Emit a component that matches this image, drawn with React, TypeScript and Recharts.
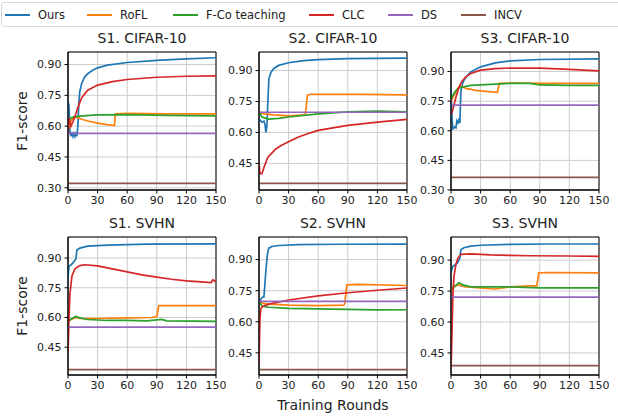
import { LineChart, Line, XAxis, YAxis, CartesianGrid, ReferenceArea } from "recharts";

type Pt = [number, number];

const methods = ["Ours", "RoFL", "F-Co teaching", "CLC", "DS", "INCV"];
const colors = ["#1f77b4", "#ff7f0e", "#2ca02c", "#d62728", "#9467bd", "#8c564b"];
const titles = ["S1. CIFAR-10", "S2. CIFAR-10", "S3. CIFAR-10", "S1. SVHN", "S2. SVHN", "S3. SVHN"];
const xTicks = [0, 30, 60, 90, 120, 150];
const yTicksWide = [0.3, 0.45, 0.6, 0.75, 0.9];
const yTicksNarrow = [0.45, 0.6, 0.75, 0.9];

// S1. CIFAR-10
const s1cOurs: Pt[] = [[0, 0.72], [1, 0.7], [2, 0.57], [3, 0.55], [4, 0.57], [5, 0.55], [6, 0.565], [7, 0.55], [8, 0.57], [9, 0.55], [10, 0.6], [11, 0.72], [12, 0.77], [14, 0.81], [17, 0.84], [20, 0.855], [25, 0.872], [30, 0.884], [40, 0.897], [60, 0.91], [90, 0.92], [120, 0.928], [150, 0.933]];
const s1cRofl: Pt[] = [[0, 0.58], [3, 0.625], [6, 0.645], [10, 0.64], [15, 0.632], [20, 0.625], [30, 0.615], [40, 0.607], [47, 0.603], [48, 0.66], [60, 0.662], [100, 0.66], [150, 0.66]];
const s1cFco: Pt[] = [[0, 0.62], [3, 0.64], [6, 0.645], [15, 0.65], [30, 0.655], [60, 0.656], [100, 0.652], [150, 0.65]];
const s1cClc: Pt[] = [[0, 0.57], [1, 0.64], [2, 0.62], [3, 0.6], [5, 0.62], [8, 0.66], [10, 0.69], [14, 0.74], [20, 0.775], [30, 0.8], [45, 0.817], [60, 0.827], [90, 0.838], [120, 0.843], [150, 0.845]];
const s1cDs: Pt[] = [[0, 0.565], [150, 0.565]];
const s1cIncv: Pt[] = [[0, 0.321], [150, 0.321]];

// S2. CIFAR-10
const s2cOurs: Pt[] = [[0, 0.67], [1, 0.66], [3, 0.65], [5, 0.655], [6, 0.64], [7, 0.6], [8, 0.63], [9, 0.75], [10, 0.86], [12, 0.89], [15, 0.91], [20, 0.925], [30, 0.938], [45, 0.948], [60, 0.953], [90, 0.958], [150, 0.96]];
const s2cRofl: Pt[] = [[0, 0.7], [5, 0.69], [15, 0.685], [30, 0.68], [47, 0.685], [49, 0.78], [52, 0.785], [100, 0.785], [150, 0.782]];
const s2cFco: Pt[] = [[0, 0.7], [3, 0.675], [10, 0.665], [20, 0.668], [30, 0.675], [60, 0.69], [90, 0.7], [120, 0.703], [150, 0.7]];
const s2cClc: Pt[] = [[0, 0.45], [1, 0.4], [3, 0.4], [5, 0.43], [9, 0.48], [13, 0.5], [17, 0.52], [22, 0.535], [30, 0.555], [40, 0.578], [50, 0.595], [60, 0.61], [75, 0.622], [90, 0.634], [120, 0.65], [150, 0.663]];
const s2cDs: Pt[] = [[0, 0.698], [150, 0.698]];
const s2cIncv: Pt[] = [[0, 0.353], [150, 0.353]];

// S3. CIFAR-10
const s3cOurs: Pt[] = [[0, 0.82], [1, 0.66], [2, 0.61], [4, 0.62], [5, 0.615], [6, 0.65], [7, 0.64], [8, 0.655], [9, 0.64], [10, 0.8], [12, 0.845], [15, 0.87], [20, 0.898], [30, 0.924], [45, 0.944], [60, 0.954], [90, 0.961], [150, 0.964]];
const s3cRofl: Pt[] = [[0, 0.75], [4, 0.79], [8, 0.822], [11, 0.825], [15, 0.815], [25, 0.805], [35, 0.8], [47, 0.795], [49, 0.84], [60, 0.842], [100, 0.84], [150, 0.84]];
const s3cFco: Pt[] = [[0, 0.76], [3, 0.79], [6, 0.81], [10, 0.82], [20, 0.83], [40, 0.835], [60, 0.84], [80, 0.84], [90, 0.832], [120, 0.83], [150, 0.83]];
const s3cClc: Pt[] = [[0, 0.68], [2, 0.71], [5, 0.77], [8, 0.82], [11, 0.85], [15, 0.873], [20, 0.89], [30, 0.907], [45, 0.915], [60, 0.918], [90, 0.917], [120, 0.911], [150, 0.903]];
const s3cDs: Pt[] = [[0, 0.73], [150, 0.73]];
const s3cIncv: Pt[] = [[0, 0.364], [150, 0.364]];

// S1. SVHN
const s1sOurs: Pt[] = [[0, 0.8], [1, 0.86], [3, 0.865], [5, 0.875], [7, 0.89], [8, 0.895], [9, 0.94], [12, 0.95], [20, 0.96], [40, 0.965], [80, 0.97], [150, 0.971]];
const s1sRofl: Pt[] = [[0, 0.58], [3, 0.59], [8, 0.6], [12, 0.595], [30, 0.595], [60, 0.598], [85, 0.6], [90, 0.605], [92, 0.66], [150, 0.66]];
const s1sFco: Pt[] = [[0, 0.58], [4, 0.595], [8, 0.605], [12, 0.598], [20, 0.59], [40, 0.585], [60, 0.585], [80, 0.583], [95, 0.59], [100, 0.583], [150, 0.58]];
const s1sClc: Pt[] = [[0, 0.42], [1, 0.6], [2, 0.72], [4, 0.81], [7, 0.845], [12, 0.862], [17, 0.866], [30, 0.86], [45, 0.845], [60, 0.83], [75, 0.815], [90, 0.804], [105, 0.793], [120, 0.785], [135, 0.78], [145, 0.776], [147, 0.79], [150, 0.778]];
const s1sDs: Pt[] = [[0, 0.551], [150, 0.551]];
const s1sIncv: Pt[] = [[0, 0.337], [150, 0.337]];

// S2. SVHN
const s2sOurs: Pt[] = [[0, 0.69], [2, 0.71], [4, 0.72], [5, 0.72], [6, 0.78], [7, 0.85], [8, 0.9], [9, 0.94], [10, 0.955], [13, 0.963], [20, 0.968], [40, 0.972], [80, 0.974], [150, 0.975]];
const s2sRofl: Pt[] = [[0, 0.7], [3, 0.69], [10, 0.685], [30, 0.68], [60, 0.678], [86, 0.68], [87, 0.69], [89, 0.778], [100, 0.78], [150, 0.775]];
const s2sFco: Pt[] = [[0, 0.7], [3, 0.675], [10, 0.67], [30, 0.665], [60, 0.662], [90, 0.66], [120, 0.657], [150, 0.658]];
const s2sClc: Pt[] = [[0, 0.4], [1, 0.62], [2, 0.665], [4, 0.675], [10, 0.685], [30, 0.705], [60, 0.725], [90, 0.74], [120, 0.752], [150, 0.763]];
const s2sDs: Pt[] = [[0, 0.698], [150, 0.698]];
const s2sIncv: Pt[] = [[0, 0.369], [150, 0.369]];

// S3. SVHN
const s3sOurs: Pt[] = [[0, 0.84], [2, 0.87], [5, 0.88], [7, 0.89], [9, 0.91], [10, 0.95], [13, 0.96], [20, 0.968], [30, 0.972], [60, 0.976], [100, 0.978], [150, 0.978]];
const s3sRofl: Pt[] = [[0, 0.75], [3, 0.77], [7, 0.78], [15, 0.77], [30, 0.765], [45, 0.76], [60, 0.77], [80, 0.775], [87, 0.775], [89, 0.838], [100, 0.84], [150, 0.838]];
const s3sFco: Pt[] = [[0, 0.76], [3, 0.77], [8, 0.79], [12, 0.78], [20, 0.77], [60, 0.77], [90, 0.765], [120, 0.765], [150, 0.765]];
const s3sClc: Pt[] = [[0, 0.37], [1, 0.55], [2, 0.74], [3, 0.82], [5, 0.88], [7, 0.91], [10, 0.928], [20, 0.93], [40, 0.925], [80, 0.921], [120, 0.92], [150, 0.918]];
const s3sDs: Pt[] = [[0, 0.721], [150, 0.721]];
const s3sIncv: Pt[] = [[0, 0.388], [150, 0.388]];

const panelSeries = [
  [s1cOurs, s1cRofl, s1cFco, s1cClc, s1cDs, s1cIncv],
  [s2cOurs, s2cRofl, s2cFco, s2cClc, s2cDs, s2cIncv],
  [s3cOurs, s3cRofl, s3cFco, s3cClc, s3cDs, s3cIncv],
  [s1sOurs, s1sRofl, s1sFco, s1sClc, s1sDs, s1sIncv],
  [s2sOurs, s2sRofl, s2sFco, s2sClc, s2sDs, s2sIncv],
  [s3sOurs, s3sRofl, s3sFco, s3sClc, s3sDs, s3sIncv],
];
const yDomains: [number, number][] = [
  [0.289, 0.961], [0.321, 0.99], [0.3, 0.999],
  [0.31, 1.006], [0.343, 1.009], [0.343, 1.012],
];
const yTickSets = [yTicksWide, yTicksNarrow, yTicksWide, yTicksNarrow, yTicksNarrow, yTicksNarrow];

// layout of the plot areas (page pixels)
const colLeft = [68, 259, 451];
const rowTop = [52, 237];
const plotW = 148;
const plotH = 138;
const axisW = 40;
const FONT = "DejaVu Sans, sans-serif";
const legendX = [5, 87, 173, 309, 388, 461];

const Panel = ({ idx }: { idx: number }) => {
  const left = colLeft[idx % 3];
  const top = rowTop[Math.floor(idx / 3)];
  const [y0, y1] = yDomains[idx];
  return (
    <div style={{ position: "absolute", left: left - axisW, top: top - 10 }}>
      <LineChart
        width={axisW + plotW + 10}
        height={10 + plotH + 30}
        margin={{ top: 10, right: 10, bottom: 0, left: 0 }}
      >
        <CartesianGrid stroke="#cccccc" strokeWidth={1} />
        <XAxis
          type="number"
          dataKey="x"
          domain={[0, 150]}
          ticks={xTicks}
          allowDataOverflow
          height={30}
          tickSize={3.5}
          tickMargin={3}
          interval={0}
          axisLine={{ stroke: "#000" }}
          tickLine={{ stroke: "#000" }}
          tick={{ fill: "#222", fontSize: 11, fontFamily: FONT }}
        />
        <YAxis
          type="number"
          domain={[y0, y1]}
          ticks={yTickSets[idx]}
          allowDataOverflow
          width={axisW}
          tickSize={3.5}
          tickMargin={3}
          interval={0}
          tickFormatter={(v: number) => v.toFixed(2)}
          axisLine={{ stroke: "#000" }}
          tickLine={{ stroke: "#000" }}
          tick={{ fill: "#222", fontSize: 11, fontFamily: FONT }}
        />
        {panelSeries[idx].map((pts, i) => (
          <Line
            key={methods[i]}
            data={pts.map(([x, y]) => ({ x, y }))}
            dataKey="y"
            type="linear"
            stroke={colors[i]}
            strokeWidth={1.7}
            dot={false}
            activeDot={false}
            isAnimationActive={false}
          />
        ))}
        <ReferenceArea x1={0} x2={150} y1={y0} y2={y1} fill="none" stroke="#000" strokeWidth={1} />
      </LineChart>
    </div>
  );
};

export default function App() {
  return (
    <div style={{ position: "absolute", left: 0, top: 0, width: 618, height: 417, background: "#fff", fontFamily: FONT, color: "#222" }}>
      <div style={{ position: "absolute", left: 1, top: 2, width: 640, height: 25, border: "1px solid #d8d8d8", borderRadius: 3, boxSizing: "border-box" }} />
      {methods.map((m, i) => (
        <div key={m} style={{ position: "absolute", left: legendX[i], top: 6, height: 18, display: "flex", alignItems: "center", whiteSpace: "nowrap" }}>
          <div style={{ width: 25, height: 2, background: colors[i], marginRight: 8 }} />
          <span style={{ fontSize: 11.5 }}>{m}</span>
        </div>
      ))}
      {titles.map((t, i) => (
        <div key={t} style={{ position: "absolute", left: colLeft[i % 3], width: plotW, top: i < 3 ? 30 : 215, textAlign: "center", fontSize: 14, whiteSpace: "nowrap" }}>
          {t}
        </div>
      ))}
      {[0, 1].map((r) => (
        <div key={r} style={{ position: "absolute", left: 22, top: rowTop[r] + plotH / 2, transform: "translate(-50%, -50%) rotate(-90deg)", fontSize: 14, whiteSpace: "nowrap" }}>
          F1-score
        </div>
      ))}
      <div style={{ position: "absolute", left: colLeft[1], width: plotW, top: 397, textAlign: "center", fontSize: 14, whiteSpace: "nowrap" }}>
        Training Rounds
      </div>
      {[0, 1, 2, 3, 4, 5].map((i) => (
        <Panel key={i} idx={i} />
      ))}
    </div>
  );
}
